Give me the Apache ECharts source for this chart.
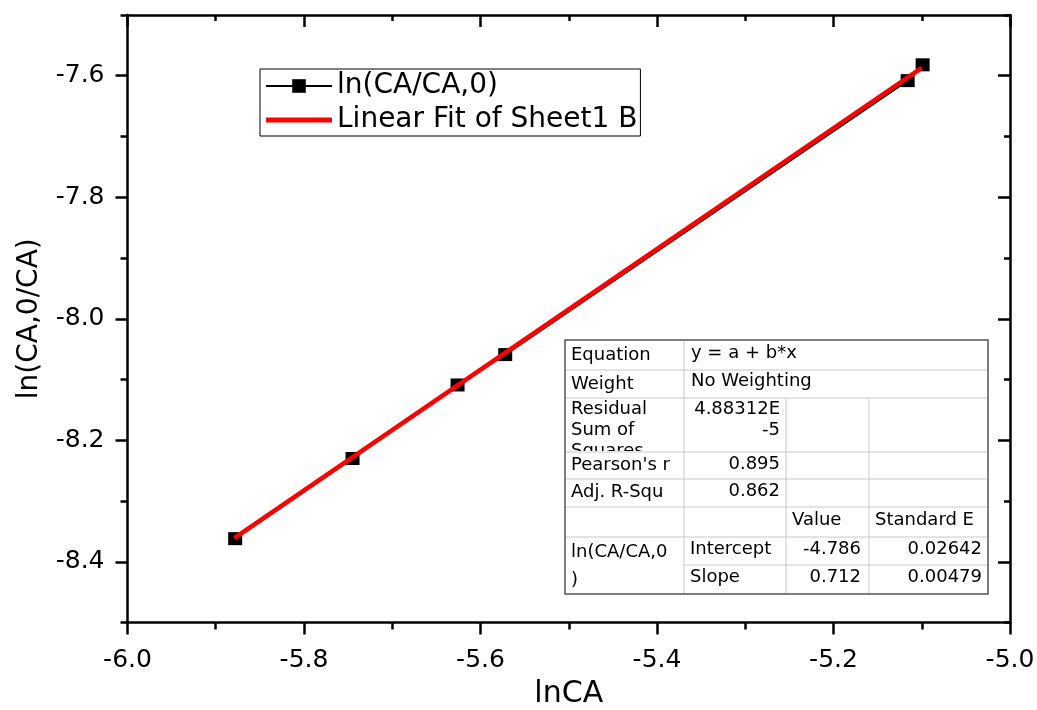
<!DOCTYPE html>
<html>
<head>
<meta charset="utf-8">
<script src="https://cdn.jsdelivr.net/npm/echarts@6/dist/echarts.min.js"></script>
<style>
html,body{margin:0;padding:0;background:#fff;}
#chart{width:1037px;height:710px;}
</style>
</head>
<body>
<div id="chart"></div>
<script>
// ---- data ----
const seriesName = 'ln(CA/CA,0)';
const fitName = 'Linear Fit of Sheet1 B';
const xData = [-5.878, -5.745, -5.626, -5.572, -5.116, -5.099];
const yData = [-8.362, -8.230, -8.109, -8.059, -7.608, -7.582];
const fitX = [-5.879, -5.100];
const fitY = [-8.361, -7.587];
const xTickLabels = ['-6.0', '-5.8', '-5.6', '-5.4', '-5.2', '-5.0'];
const yTickValues = [-8.4, -8.2, -8.0, -7.8, -7.6];
const yMinorValues = [-8.5, -8.3, -8.1, -7.9, -7.7, -7.5];
const xAxisName = 'lnCA';
const yAxisName = 'ln(CA,0/CA)';
// fit-table text
const tblRowLabels = ['Equation', 'Weight', 'Residual\nSum of\nSquares', "Pearson's r", 'Adj. R-Squ'];
const tblEquation = 'y = a + b*x';
const tblWeight = 'No Weighting';
const tblRss = '4.88312E\n-5';
const tblPearson = '0.895';
const tblAdjR2 = '0.862';
const tblHeaders = ['Value', 'Standard E'];
const tblGroup = 'ln(CA/CA,0\n)';
const tblParams = ['Intercept', 'Slope'];
const tblValues = ['-4.786', '0.712'];
const tblErrors = ['0.02642', '0.00479'];

const FONT = 'DejaVu Sans';
const chart = echarts.init(document.getElementById('chart'));

// table layout
const colX = [565, 684, 786, 869, 988];
const rowY = [340, 370, 398, 452, 479, 507, 537, 565, 594];
const TF = 18;
const g = [];
function txt(x, y, s, align, z) {
  g.push({
    type: 'text', x: x, y: y, z: z || 103, silent: true,
    style: {text: s, fill: '#000', font: TF + 'px "' + FONT + '"', align: align || 'left', verticalAlign: 'middle', lineHeight: 21}
  });
}
function hline(x1, x2, y) {
  g.push({type: 'line', z: 104, silent: true, shape: {x1: x1, y1: y, x2: x2, y2: y}, style: {stroke: '#c8c8c8', lineWidth: 1}});
}
function vline(x, y1, y2) {
  g.push({type: 'line', z: 104, silent: true, shape: {x1: x, y1: y1, x2: x, y2: y2}, style: {stroke: '#c8c8c8', lineWidth: 1}});
}
// background
g.push({type: 'rect', z: 100, silent: true, shape: {x: colX[0], y: rowY[0], width: colX[4] - colX[0], height: rowY[8] - rowY[0]}, style: {fill: '#fff'}});
// residual text (clipped by cover)
g.push({type: 'text', x: colX[0] + 6, y: rowY[2] + 1, z: 101, silent: true,
  style: {text: tblRowLabels[2], fill: '#000', font: TF + 'px "' + FONT + '"', align: 'left', verticalAlign: 'top', lineHeight: 21}});
g.push({type: 'rect', z: 102, silent: true, shape: {x: colX[0] + 1, y: rowY[3] - 1, width: colX[1] - colX[0] - 2, height: 28}, style: {fill: '#fff'}});
// labels
txt(colX[0] + 6, 355, tblRowLabels[0]);
txt(colX[0] + 6, 384, tblRowLabels[1]);
txt(colX[0] + 6, 465, tblRowLabels[3]);
txt(colX[0] + 6, 492, tblRowLabels[4]);
txt(colX[1] + 7, 353, tblEquation);
txt(colX[1] + 7, 381, tblWeight);
g.push({type: 'text', x: colX[2] - 6, y: rowY[2] + 1, z: 103, silent: true,
  style: {text: tblRss, fill: '#000', font: TF + 'px "' + FONT + '"', align: 'right', verticalAlign: 'top', lineHeight: 21}});
txt(colX[2] - 6, 464, tblPearson, 'right');
txt(colX[2] - 6, 491, tblAdjR2, 'right');
txt(colX[2] + 6, 520, tblHeaders[0]);
txt(colX[3] + 6, 520, tblHeaders[1]);
g.push({type: 'text', x: colX[0] + 6, y: 537, z: 103, silent: true,
  style: {text: tblGroup, fill: '#000', font: TF + 'px "' + FONT + '"', align: 'left', verticalAlign: 'top', lineHeight: 28, padding: [1, 0, 0, 0]}});
txt(colX[1] + 6, 549, tblParams[0]);
txt(colX[1] + 6, 577, tblParams[1]);
txt(colX[3] - 8, 549, tblValues[0], 'right');
txt(colX[3] - 8, 577, tblValues[1], 'right');
txt(colX[4] - 6, 549, tblErrors[0], 'right');
txt(colX[4] - 6, 577, tblErrors[1], 'right');
// grid lines
for (let i = 1; i <= 6; i++) hline(colX[0], colX[4], rowY[i]);
hline(colX[1], colX[4], rowY[7]);
vline(colX[1], rowY[0], rowY[8]);
vline(colX[2], rowY[2], rowY[8]);
vline(colX[3], rowY[2], rowY[8]);
// outer border
g.push({type: 'rect', z: 105, silent: true, shape: {x: colX[0], y: rowY[0], width: colX[4] - colX[0], height: rowY[8] - rowY[0]}, style: {fill: 'none', stroke: '#555', lineWidth: 1.5}});

const axLine = {show: true, onZero: false, lineStyle: {color: '#000', width: 2.5}};
const tickStyle = {color: '#000', width: 2.5};
// thick-line legend icon (degenerate sub-paths keep the icon box 66x17)
const fitIcon = 'path://M0,0L66,0L66,0.01Z M0,6L66,6L66,11L0,11Z M0,17L66,17L66,17.01Z';

const option = {
  animation: false,
  backgroundColor: '#fff',
  grid: {left: 127.5, top: 15, width: 882.5, height: 607.5, show: false, containLabel: false, outerBoundsMode: 'none'},
  legend: {
    left: 260, top: 69, orient: 'vertical',
    itemWidth: 66, itemHeight: 17, itemGap: 4,
    padding: [2, 3, 1, 5],
    borderColor: '#000', borderWidth: 1, backgroundColor: '#fff',
    lineStyle: {width: 2},
    textStyle: {fontFamily: FONT, fontSize: 28, color: '#000', lineHeight: 30},
    data: [
      {name: seriesName, lineStyle: {width: 2, color: '#000'}},
      {name: fitName, icon: fitIcon, itemStyle: {color: '#ff0000'}}
    ]
  },
  xAxis: [{
    type: 'value', position: 'bottom', min: -6, max: -5, interval: 0.2,
    name: xAxisName, nameLocation: 'middle', nameGap: 57,
    nameTextStyle: {fontFamily: FONT, fontSize: 30, color: '#000'},
    axisLine: axLine,
    axisTick: {show: true, inside: false, length: 12, lineStyle: tickStyle},
    minorTick: {show: true, splitNumber: 2, length: 7, lineStyle: tickStyle},
    axisLabel: {margin: 25, fontFamily: FONT, fontSize: 25, color: '#000',
      formatter: function (v) { const i = Math.round((v + 6) / 0.2); return xTickLabels[i] !== undefined ? xTickLabels[i] : ''; }},
    splitLine: {show: false}
  }, {
    type: 'value', position: 'top', min: -6, max: -5, interval: 0.2,
    axisLine: axLine,
    axisTick: {show: true, inside: true, length: 12, lineStyle: tickStyle},
    minorTick: {show: true, splitNumber: 2, length: 6, lineStyle: tickStyle},
    axisLabel: {show: false}, splitLine: {show: false}
  }],
  yAxis: [{
    type: 'value', position: 'left', min: -8.5, max: -7.5,
    name: yAxisName, nameLocation: 'middle', nameGap: 84, nameRotate: 90,
    nameTextStyle: {fontFamily: FONT, fontSize: 28, color: '#000'},
    axisLine: axLine,
    axisTick: {show: true, inside: false, length: 12, customValues: yTickValues, lineStyle: tickStyle},
    axisLabel: {margin: 23, fontFamily: FONT, fontSize: 25, color: '#000', customValues: yTickValues,
      formatter: function (v) { return v.toFixed(1); }},
    splitLine: {show: false}
  }, {
    type: 'value', position: 'left', min: -8.5, max: -7.5, offset: 0,
    axisLine: {show: false},
    axisTick: {show: true, inside: false, length: 7, customValues: yMinorValues, lineStyle: tickStyle},
    axisLabel: {show: false}, splitLine: {show: false}
  }, {
    type: 'value', position: 'right', min: -8.5, max: -7.5, offset: 0,
    axisLine: axLine,
    axisTick: {show: true, inside: true, length: 12, customValues: yTickValues, lineStyle: tickStyle},
    axisLabel: {show: false}, splitLine: {show: false}
  }, {
    type: 'value', position: 'right', min: -8.5, max: -7.5, offset: 0,
    axisLine: {show: false},
    axisTick: {show: true, inside: true, length: 6, customValues: yMinorValues, lineStyle: tickStyle},
    axisLabel: {show: false}, splitLine: {show: false}
  }],
  series: [{
    name: seriesName, type: 'line', xAxisIndex: 0, yAxisIndex: 0,
    data: xData.map(function (x, i) { return [x, yData[i]]; }),
    symbol: 'rect', symbolSize: [14, 13], showAllSymbol: true,
    itemStyle: {color: '#000'},
    lineStyle: {color: '#000', width: 2},
    z: 2
  }, {
    name: fitName, type: 'line', xAxisIndex: 0, yAxisIndex: 0,
    data: fitX.map(function (x, i) { return [x, fitY[i]]; }),
    symbol: 'none', showSymbol: false,
    itemStyle: {color: '#ff0000'},
    lineStyle: {color: '#ff0000', width: 4.5},
    z: 3
  }],
  graphic: {elements: g}
};
chart.setOption(option);
</script>
</body>
</html>
